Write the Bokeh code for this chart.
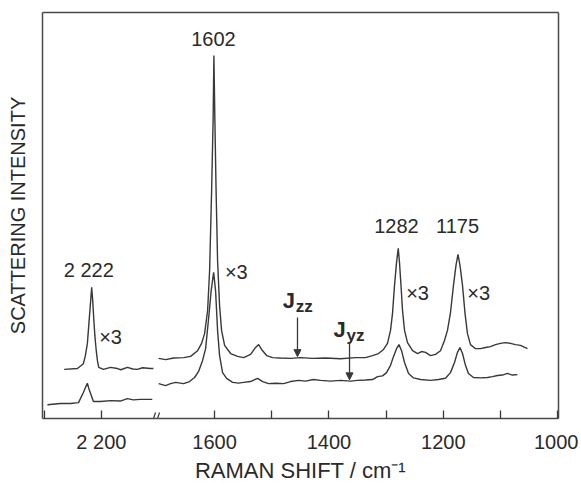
import numpy as np
from bokeh.plotting import figure
from bokeh.models import Range1d, FixedTicker, Label, Arrow, NormalHead, LinearAxis, Title
from bokeh.embed import file_html
from bokeh.resources import INLINE

# ---------------- data ----------------
# Raman shift in cm-1, scattering intensity in arbitrary units (0..100 = frame)
# Left part of the broken axis (around 2222 cm-1)
wn_left_zz = [2265, 2242, 2231.5, 2228, 2224.5, 2221, 2218.7, 2217, 2215.2, 2213.5,
              2211.4, 2209, 2207, 2204.7, 2196.5, 2184, 2172, 2166, 2154.5, 2145,
              2137, 2128, 2114, 2109]
int_left_zz = [12.1, 12.3, 13.5, 15.5, 18.5, 24.9, 29.1, 32.3, 29.1, 24.9,
               20.4, 16.7, 14.3, 12.6, 12.1, 12.6, 12.3, 12.0, 12.6, 12.2,
               12.1, 12.5, 12.3, 12.3]
wn_left_yz = [2294.4, 2271.7, 2254, 2240, 2231.5, 2228, 2224.5, 2222, 2219, 2214,
              2201.7, 2184, 2167, 2154.5, 2144, 2132, 2111]
int_left_yz = [3.4, 3.7, 3.7, 3.9, 6.4, 7.6, 8.7, 7.4, 6.2, 4.2,
               4.2, 4.4, 4.3, 4.9, 4.6, 4.7, 4.7]

# Right part of the broken axis (1700 - 1000 cm-1)
wn_right_zz = [1697.9, 1685.7, 1671.7, 1654.2, 1642, 1629.7, 1622.7, 1617.5, 1612.2, 1608.7,
               1605.2, 1602.6, 1601.2, 1599.5, 1597.4, 1594.8, 1591.3, 1587.8, 1582.5, 1572,
               1559.8, 1549.3, 1537, 1528.3, 1523, 1517.8, 1509, 1498.6, 1484.6, 1467,
               1449.7, 1428.7, 1406, 1379.7, 1353.5, 1336, 1323.8, 1313.3, 1304.5, 1297.6,
               1292.3, 1288.8, 1285.3, 1281.8, 1278.8, 1276.6, 1274, 1271.3, 1267.8, 1262.6,
               1253.8, 1245, 1238, 1231, 1222.4, 1213.6, 1204.9, 1197.9, 1192.7, 1187.4,
               1182.2, 1177.8, 1174.3, 1170.8, 1166.4, 1162, 1157.7, 1152.4, 1143.7, 1135,
               1126.2, 1117.5, 1108.7, 1100, 1091.3, 1082.5, 1073.8, 1065, 1052.8]
int_right_zz = [14.8, 14.5, 14.9, 15.0, 15.3, 16.7, 18.5, 20.9, 26.6, 36.5,
                56.2, 73.4, 89.4, 73.4, 56.2, 38.9, 27.8, 21.7, 18.0, 16.0,
                15.3, 15.0, 15.8, 17.5, 18.2, 17.0, 15.5, 15.0, 14.9, 14.8,
                15.0, 14.8, 14.9, 14.7, 15.0, 15.0, 15.5, 16.0, 17.0, 18.5,
                21.7, 25.9, 32.8, 38.4, 41.9, 38.4, 32.8, 26.6, 21.7, 18.7,
                16.7, 16.0, 16.5, 16.3, 15.5, 15.8, 16.7, 19.2, 21.7, 26.1,
                32.8, 37.7, 40.4, 37.7, 32.8, 25.9, 20.9, 18.2, 17.2, 17.2,
                17.5, 17.7, 18.2, 18.5, 18.7, 18.5, 18.2, 18.0, 17.2]
wn_right_yz = [1697.9, 1685.7, 1677, 1668, 1654.2, 1643.7, 1635, 1628, 1621, 1615.7,
               1610.5, 1606, 1601.7, 1598.3, 1594.8, 1591.3, 1586, 1579, 1568.5, 1558,
               1549.3, 1537, 1524.8, 1516, 1505.6, 1493.4, 1479.4, 1467, 1453, 1440.9,
               1427, 1414.7, 1397.2, 1379.7, 1362.2, 1350, 1336, 1323.8, 1315, 1306.3,
               1299.3, 1292.3, 1287, 1281.8, 1277.5, 1273, 1267.8, 1260.8, 1252, 1239.8,
               1222.4, 1208.4, 1196.2, 1187.4, 1180.4, 1175.2, 1170.8, 1166.4, 1161.2, 1156,
               1147.2, 1135, 1122.7, 1114, 1105.2, 1096.5, 1087.8, 1079, 1070.3]
int_right_yz = [8.6, 8.1, 8.6, 8.9, 8.6, 9.1, 10.1, 11.6, 14.3, 17.2,
                24.6, 31.5, 36.0, 31.5, 21.7, 15.5, 11.3, 9.9, 8.9, 8.7,
                8.9, 9.1, 9.9, 9.1, 8.6, 8.7, 8.6, 9.1, 9.4, 9.2,
                9.6, 9.4, 9.2, 9.4, 9.2, 9.4, 9.5, 9.6, 10.3, 10.5,
                11.3, 13.1, 15.3, 17.2, 18.2, 16.7, 13.8, 11.1, 10.0, 9.6,
                9.4, 9.6, 9.9, 11.3, 13.8, 16.3, 17.5, 16.0, 13.1, 11.1,
                10.1, 10.0, 10.1, 10.3, 10.6, 10.7, 11.1, 10.7, 10.8]

peak_positions = [2222, 1602, 1282, 1175]
peak_labels = ["2 222", "1602", "1282", "1175"]
factor_text = "\u00d73"
factor_wn = [2184, 1562, 1245, 1138]
factor_int = [20.0, 36.0, 31.0, 31.0]

tick_values = [2300, 2200, 1600, 1500, 1400, 1300, 1200, 1100, 1000]
tick_labels = ["", "2 200", "1600", "", "1400", "", "1200", "", "1000"]

x_title = "RAMAN SHIFT / cm\u207b\u00b9"
y_title = "SCATTERING INTENSITY"

# axis break: left part ends at 2105 cm-1, right part starts at 1703 cm-1
BREAK_LO = 2105
BREAK_HI = 1703
SHIFT = BREAK_LO - BREAK_HI
X_START, X_END = 2303, 998.5


def to_plot(w):
    w = np.asarray(w, dtype=float)
    return np.where(w >= BREAK_LO, w - SHIFT, w)


# ---------------- styles ----------------
INK = "#383838"
FRAME = "#4a4a4a"
TEXT = "#2a2a2a"
FONT = "Liberation Sans"
FRAME_W, FRAME_H = 516, 406
X0 = float(to_plot(X_START))
UX = (X0 - X_END) / FRAME_W   # data units per pixel, x
UY = 100.0 / FRAME_H          # data units per pixel, y

p = figure(width=578, height=485, output_backend="svg", toolbar_location=None,
           x_range=Range1d(X0, X_END), y_range=Range1d(0, 100),
           min_border_left=42, min_border_right=20, min_border_top=12, min_border_bottom=67)
p.background_fill_color = "white"
p.border_fill_color = "white"
p.outline_line_color = None
p.xgrid.visible = False
p.ygrid.visible = False

for w, i in [(wn_left_zz, int_left_zz), (wn_left_yz, int_left_yz),
             (wn_right_zz, int_right_zz), (wn_right_yz, int_right_yz)]:
    p.line(to_plot(w), i, line_color=INK, line_width=1.4)

# x axis (bottom)
xa = p.xaxis[0]
xa.ticker = FixedTicker(ticks=[float(v) for v in to_plot(tick_values)], minor_ticks=[])
xa.major_label_overrides = {float(v): lab for v, lab in zip(to_plot(tick_values), tick_labels)}
xa.major_tick_in = 8
xa.major_tick_out = 0
xa.minor_tick_in = 0
xa.minor_tick_out = 0
xa.major_tick_line_color = INK
xa.major_tick_line_width = 1.3
xa.axis_line_color = FRAME
xa.axis_line_width = 1.5
xa.major_label_text_font = FONT
xa.major_label_text_font_size = "20px"
xa.major_label_text_color = TEXT
xa.major_label_standoff = 12

ya = p.yaxis[0]
ya.ticker = FixedTicker(ticks=[], minor_ticks=[])
ya.axis_line_color = FRAME
ya.axis_line_width = 1.5
ya.major_tick_out = 0
ya.major_tick_in = 0
ya.minor_tick_out = 0
ya.major_label_standoff = 0
ya.major_label_text_font_size = "0px"
ya.axis_label = y_title
ya.axis_label_text_font = FONT
ya.axis_label_text_font_size = "20px"
ya.axis_label_text_font_style = "normal"
ya.axis_label_text_color = TEXT
ya.axis_label_standoff = 14

for side in ("above", "right"):
    ax = LinearAxis(ticker=FixedTicker(ticks=[], minor_ticks=[]),
                    major_tick_in=0, major_tick_out=0, minor_tick_in=0, minor_tick_out=0,
                    major_label_standoff=0, major_label_text_font_size="0px",
                    axis_line_color=FRAME, axis_line_width=1.5)
    p.add_layout(ax, side)

# x-axis title placed in the panel under the axis
p.add_layout(Title(text=x_title, align="center", standoff=0,
                   text_font=FONT, text_font_size="22px", text_font_style="normal",
                   text_color=TEXT), "below")

# peak labels above the Jzz (x3) peaks
curves_up = [(wn_left_zz, int_left_zz), (wn_right_zz, int_right_zz),
             (wn_right_zz, int_right_zz), (wn_right_zz, int_right_zz)]
gaps_px = [17, 17, 22, 28]
for pk, lab, (w, i), g in zip(peak_positions, peak_labels, curves_up, gaps_px):
    w = np.asarray(w); i = np.asarray(i)
    near = np.abs(w - pk) < 20
    top = i[near].max()
    p.add_layout(Label(x=float(to_plot(pk)), y=top + g * UY, text=lab,
                       text_align="center", text_baseline="alphabetic",
                       text_font=FONT, text_font_size="20px", text_color=TEXT))

for fw, fi in zip(factor_wn, factor_int):
    p.add_layout(Label(x=float(to_plot(fw)), y=fi, text=factor_text,
                       text_align="center", text_baseline="middle",
                       text_font=FONT, text_font_size="20px", text_color=TEXT))

# polarisation labels with arrows
pol_main = ["J", "J"]
pol_sub = ["zz", "yz"]
pol_wn = [1481, 1392]
pol_int = [27.1, 20.0]
arrow_wn = [1455, 1364]
arrow_top = [24.9, 18.7]
arrow_curves = [(wn_right_zz, int_right_zz), (wn_right_yz, int_right_yz)]
for m, s, pw, pi, aw, at, (cw, ci) in zip(pol_main, pol_sub, pol_wn, pol_int,
                                          arrow_wn, arrow_top, arrow_curves):
    p.add_layout(Label(x=pw, y=pi, y_offset=8, text=m, text_align="left",
                       text_baseline="alphabetic",
                       text_font=FONT, text_font_size="22px", text_font_style="bold",
                       text_color=TEXT))
    p.add_layout(Label(x=pw, y=pi, x_offset=13, y_offset=2, text=s, text_align="left",
                       text_baseline="alphabetic", text_font=FONT, text_font_size="17px",
                       text_font_style="bold", text_color=TEXT))
    cw = np.asarray(cw)[::-1]; ci = np.asarray(ci)[::-1]
    tip = float(np.interp(aw, cw, ci)) + 0.3
    p.add_layout(Arrow(end=NormalHead(size=7, fill_color=INK, line_color=INK, line_width=1),
                       x_start=aw, y_start=at, x_end=aw, y_end=tip,
                       line_color=INK, line_width=1.3))

# axis-break mark "//" on the bottom axis
brk_x = [BREAK_HI + 2 * UX, BREAK_HI - 2 * UX]
p.segment(x0=[b + 1.8 * UX for b in brk_x], y0=[-5 * UY] * 2,
          x1=[b - 1.8 * UX for b in brk_x], y1=[6 * UY] * 2,
          line_color=INK, line_width=1.2)

open("out.html", "w").write(file_html(p, INLINE))
